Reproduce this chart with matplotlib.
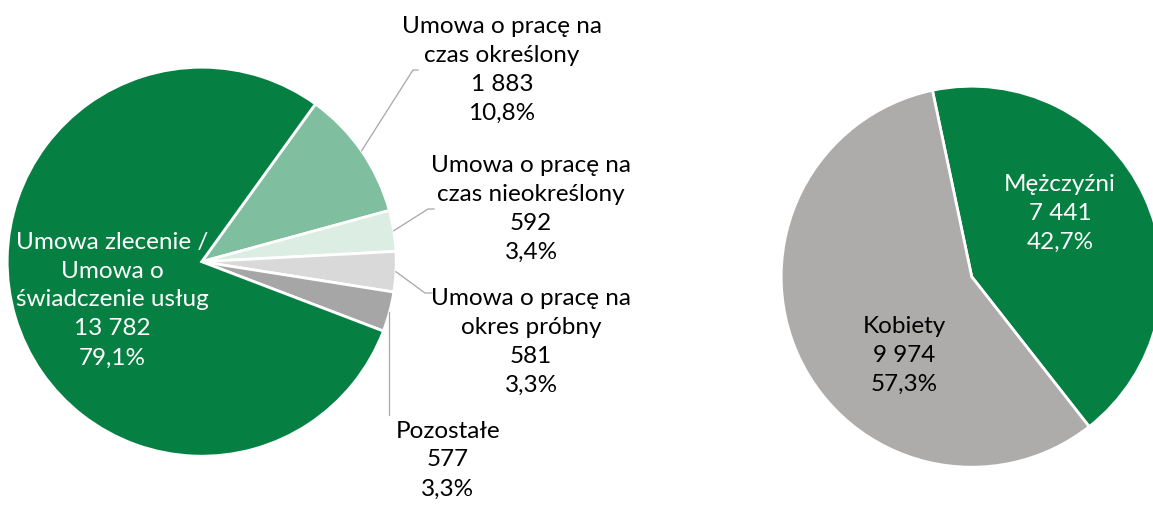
import numpy as np
import matplotlib
matplotlib.use('Agg')
import matplotlib.pyplot as plt

plt.rcParams['font.family'] = ['Lato', 'DejaVu Sans']

# Data
contract_labels = ['Umowa o pracę na\nczas określony', 'Umowa o pracę na\nczas nieokreślony',
                   'Umowa o pracę na\nokres próbny', 'Pozostałe',
                   'Umowa zlecenie /\nUmowa o\nświadczenie usług']
contract_counts = [1883, 592, 581, 577, 13782]
contract_colors = ['#7FBE9F', '#DCEDE4', '#D9D9D9', '#A6A6A6', '#067F42']

gender_labels = ['Mężczyźni', 'Kobiety']
gender_counts = [7441, 9974]
gender_colors = ['#067F42', '#AEABAB']

W, H = 1153, 505


def fmt(v, total):
    return '{}\n{}%'.format(f'{v:,}'.replace(',', ' '), f'{100 * v / total:.1f}'.replace('.', ','))


fig = plt.figure(figsize=(W / 100, H / 100), dpi=100)
ax = fig.add_axes([0, 0, 1, 1])

# pixel (top-left origin) -> data
def px(x, y):
    return x, H - y

# Left pie
c1 = px(201.7, 261.7)
r1 = 194.5
wedges1, _ = ax.pie(contract_counts, colors=contract_colors, startangle=54.2, counterclock=False,
                    center=c1, radius=r1, frame=True,
                    wedgeprops=dict(edgecolor='white', linewidth=2))

# Right pie
c2 = px(971.7, 276.7)
r2 = 190.5
wedges2, _ = ax.pie(gender_counts, colors=gender_colors, startangle=101.9, counterclock=False,
                    center=c2, radius=r2, frame=True,
                    wedgeprops=dict(edgecolor='white', linewidth=2))
ax.set_xlim(0, W)
ax.set_ylim(0, H)
ax.set_aspect('equal')
ax.axis('off')

total1 = sum(contract_counts)
total2 = sum(gender_counts)
fs = 17.5
ls = 1.47

# label centres (pixels) and leader elbows
label_pos = [(502, 70), (531, 209), (531, 342), (448, 460), (112, 300)]
elbows = [[(413, 70), (418, 70)], [(428, 209), (434, 209)], [(425, 293), (432, 293)],
          [(389.3, 415)], None]
text_colors = ['black', 'black', 'black', 'black', 'white']

for w, lab, cnt, pos, elb, col in zip(wedges1, contract_labels, contract_counts,
                                      label_pos, elbows, text_colors):
    ax.text(*px(*pos), lab + '\n' + fmt(cnt, total1), ha='center', va='center',
            fontsize=fs, color=col, linespacing=ls)
    if elb is not None:
        mid = np.deg2rad((w.theta1 + w.theta2) / 2)
        start = (c1[0] + r1 * np.cos(mid), c1[1] + r1 * np.sin(mid))
        if len(elb) == 1:
            start = (elb[0][0], start[1])
        pts = [start] + [px(*p) for p in elb]
        xs, ys = zip(*pts)
        ax.plot(xs, ys, color='#A6A6A6', lw=0.9)

gender_pos = [(1060, 213), (904, 355)]
gender_text = ['white', 'black']
for lab, cnt, pos, col in zip(gender_labels, gender_counts, gender_pos, gender_text):
    ax.text(*px(*pos), lab + '\n' + fmt(cnt, total2), ha='center', va='center',
            fontsize=fs, color=col, linespacing=ls)

fig.savefig('out.png', dpi=100, facecolor='white')
